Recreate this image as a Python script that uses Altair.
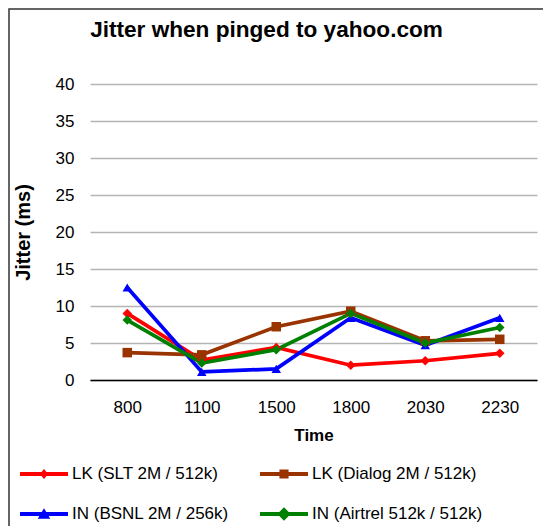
import altair as alt
import pandas as pd

times = ["800", "1100", "1500", "1800", "2030", "2230"]
series_names = [
    "LK (SLT 2M / 512k)",
    "LK (Dialog 2M / 512k)",
    "IN (BSNL 2M / 256k)",
    "IN (Airtrel 512k / 512k)",
]
slt = [9.0, 2.7, 4.4, 2.0, 2.6, 3.6]
dialog = [3.7, 3.4, 7.2, 9.3, 5.3, 5.5]
bsnl = [12.5, 1.1, 1.5, 8.4, 4.7, 8.4]
airtel = [8.1, 2.3, 4.1, 9.0, 5.0, 7.1]
y_ticks = [0, 5, 10, 15, 20, 25, 30, 35, 40]

colors = ["#FF0000", "#993300", "#0000FF", "#008000"]
markers = ["diamond", "square", "triangle-up", "diamond"]
marker_sizes = [90, 90, 150, 190]

line_path = "M-1,-0.08H1V0.08H-1Z"
legend_paths = [
    line_path + "M0,-0.21L0.17,0L0,0.21L-0.17,0Z",
    line_path + "M-0.19,-0.19H0.19V0.19H-0.19Z",
    line_path + "M0,-0.24L0.26,0.2L-0.26,0.2Z",
    line_path + "M0,-0.28L0.28,0L0,0.28L-0.28,0Z",
]

rows = []
for name, vals in zip(series_names, [slt, dialog, bsnl, airtel]):
    for t, v in zip(times, vals):
        rows.append({"Time": t, "Jitter": v, "series": name, "s2": name, "s3": name})
df = pd.DataFrame(rows)

FONT = "Liberation Sans"

x_enc = alt.X(
    "Time:O",
    sort=times,
    scale=alt.Scale(type="point", padding=0.5),
    axis=alt.Axis(
        title="Time", labelAngle=0, ticks=False, domain=True, domainColor="#000000",
        domainWidth=1.3, grid=False, labelPadding=19, titlePadding=12,
        labelFontSize=17, titleFontSize=17,
    ),
)
y_enc = alt.Y(
    "Jitter:Q",
    scale=alt.Scale(domain=[0, 40], nice=False),
    axis=alt.Axis(
        title="Jitter (ms)", values=y_ticks, ticks=False, domain=False, grid=True,
        gridColor="#B4B4B4", gridWidth=1.5, labelPadding=16, titlePadding=22,
        labelFontSize=17, titleFontSize=20,
    ),
)

base = alt.Chart(df)

lines = base.mark_line(strokeWidth=3.7).encode(
    x=x_enc, y=y_enc,
    color=alt.Color("s2:N", scale=alt.Scale(domain=series_names, range=colors), legend=None),
    detail="s2:N",
)

points = base.mark_point(filled=True, opacity=1).encode(
    x=x_enc, y=y_enc,
    color=alt.Color("s3:N", scale=alt.Scale(domain=series_names, range=colors), legend=None),
    shape=alt.Shape("s3:N", scale=alt.Scale(domain=series_names, range=markers), legend=None),
    size=alt.Size("s3:N", scale=alt.Scale(domain=series_names, range=marker_sizes), legend=None),
)

legend_layer = base.transform_filter("false").mark_point(filled=True, opacity=1).encode(
    x=x_enc, y=y_enc,
    color=alt.Color("series:N", scale=alt.Scale(domain=series_names, range=colors),
                    legend=alt.Legend(
                        title=None, orient="none", legendX=-70, legendY=366,
                        direction="horizontal", columns=2, columnPadding=31, rowPadding=8,
                        symbolSize=2304, symbolOpacity=1, symbolStrokeWidth=0,
                        labelFontSize=17, labelFont=FONT, labelColor="#000000",
                        labelOffset=4, labelLimit=400,
                    )),
    shape=alt.Shape("series:N", scale=alt.Scale(domain=series_names, range=legend_paths)),
)

frame = alt.Chart(pd.DataFrame({"a": [0]})).mark_rect(
    fillOpacity=0, stroke="#333333", strokeWidth=1.5
).encode(
    x=alt.value(-81), x2=alt.value(700), y=alt.value(-75), y2=alt.value(700)
)

chart = alt.layer(frame, lines, points, legend_layer).resolve_scale(
    color="independent", shape="independent", size="independent"
).properties(
    width=447,
    height=296,
    padding={"left": 82, "top": 76, "right": 6, "bottom": 146},
    autosize=alt.AutoSizeParams(type="none"),
    title=alt.TitleParams(
        "Jitter when pinged to yahoo.com", font=FONT, fontSize=22.6, fontWeight="bold",
        color="#000000", anchor="middle", dx=-47, offset=0, baseline="alphabetic", dy=51,
    ),
).configure_axis(
    labelFont=FONT, titleFont=FONT, labelColor="#000000", titleColor="#000000",
    titleFontWeight="bold",
).configure_view(stroke=None)

chart.save("out.html", embed_options={"renderer": "svg", "actions": False})
